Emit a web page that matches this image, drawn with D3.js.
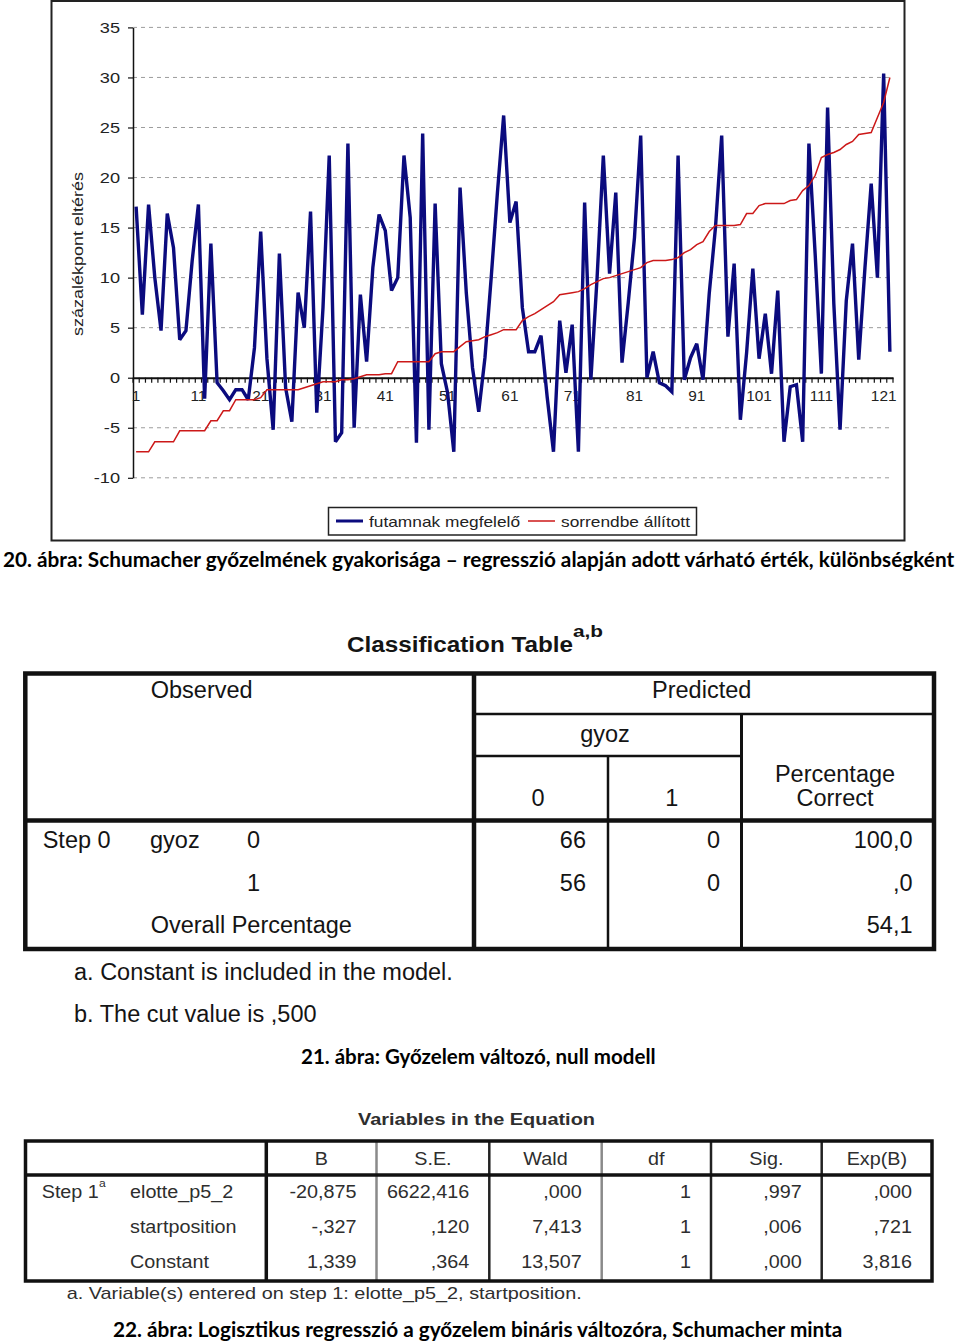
<!DOCTYPE html>
<html><head><meta charset="utf-8">
<script src="https://cdn.jsdelivr.net/npm/d3@7"></script>
<style>
html,body{margin:0;padding:0;background:#fff;}
svg{display:block;}
</style></head><body>
<svg id="c" width="960" height="1344"></svg>
<script>
// ---------- chart data ----------
const futamnakMegfelelo = [17.1,6.3,17.3,10,4.7,16.4,13,3.8,4.7,11.7,17.3,-2.1,13.4,-0.5,-1.3,-2.2,-1.2,-1.2,-2.2,3,
14.6,1.9,-5.2,12.4,-1,-4.4,8.5,5,16.6,-3.5,7,22.2,-6.4,-5.5,23.4,-5,8.3,1.6,11,16.3,
14.7,8.7,10,22.2,16,-6.5,24.4,-5.2,17.4,1.4,-1.5,-7.4,19,8.5,1,-3.4,2,10,18.5,26.2,
15.5,17.6,7,2.6,2.6,4.2,-2,-7.4,5.7,0.5,5.3,-7.4,17.5,-0.2,10,22.2,10.4,18.5,1.5,7.5,
14,24.2,0,2.6,-0.5,-0.8,-1.4,22.2,-0.2,2,3.4,-0.2,8.4,15,24.2,4.1,11.4,-4.2,2.5,10.9,
1.9,6.4,0.4,8.7,-6.4,-0.9,-0.7,-6.4,23.4,12.4,0.4,27,7.4,-5.2,7.7,13.4,1.8,11,19.4,10,
30.4,2.6];
const sorrendbeAllitott = [-7.4,-7.4,-7.4,-6.4,-6.4,-6.4,-6.4,-5.3,-5.3,-5.3,-5.3,-5.3,-4.3,-4.3,-3.3,-3.3,-2.2,-2.2,-2.2,-2.2,
-2.0,-1.2,-1.2,-1.2,-1.2,-1.2,-1.2,-1.0,-0.8,-0.6,-0.4,-0.4,-0.4,-0.2,-0.2,-0.1,0.1,0.3,0.3,0.3,
0.4,0.4,1.6,1.6,1.6,1.6,1.6,1.6,2.4,2.6,2.6,2.6,3.1,3.6,3.7,3.8,4.1,4.3,4.5,4.8,
4.8,4.8,5.7,6.1,6.4,6.8,7.2,7.6,8.3,8.4,8.5,8.6,8.9,9.3,9.6,9.9,10.0,10.2,10.4,10.6,
10.8,11.0,11.5,11.7,11.7,11.7,11.8,12.0,12.5,12.8,13.3,13.6,14.6,15.2,15.2,15.2,15.2,15.3,16.4,16.4,
17.2,17.4,17.4,17.4,17.4,17.7,17.8,18.7,19.2,20.2,22.0,22.3,22.5,22.8,23.3,23.6,24.3,24.4,24.5,26.0,
27.5,30.0];
const categories = futamnakMegfelelo.map((_, i) => i + 1);
const xTickLabels = ["1","11","21","31","41","51","61","71","81","91","101","111","121"];
const yTickValues = [-10,-5,0,5,10,15,20,25,30,35];
const yAxisTitle = "százalékpont eltérés";
const seriesNames = ["futamnak megfelelő","sorrendbe állított"];
const seriesColors = ["#0b0b7e","#cc1818"];

// ---------- captions ----------
const caption20 = "20. ábra: Schumacher győzelmének gyakorisága – regresszió alapján adott várható érték, különbségként";
const caption21 = "21. ábra: Győzelem változó, null modell";
const caption22 = "22. ábra: Logisztikus regresszió a győzelem bináris változóra, Schumacher minta";

// ---------- classification table ----------
const classTitle = "Classification Table";
const classTitleSup = "a,b";
const classHead = ["Observed","Predicted","gyoz","0","1","Percentage","Correct"];
const classStepLabels = ["Step 0","gyoz"];
const classObserved = ["0","1"];
const classOverall = "Overall Percentage";
const classCount0 = ["66","56"];
const classCount1 = ["0","0"];
const classPct = ["100,0",",0","54,1"];
const classNotes = ["a. Constant is included in the model.","b. The cut value is ,500"];

// ---------- variables table ----------
const varTitle = "Variables in the Equation";
const varHeaders = ["B","S.E.","Wald","df","Sig.","Exp(B)"];
const varStep = "Step 1";
const varNames = ["elotte_p5_2","startposition","Constant"];
const varValues = [
  ["-20,875","6622,416",",000","1",",997",",000"],
  ["-,327",",120","7,413","1",",006",",721"],
  ["1,339",",364","13,507","1",",000","3,816"]
];
const varNote = "a. Variable(s) entered on step 1: elotte_p5_2, startposition.";

// =================== drawing ===================
const svg = d3.select("#c");
const SANS = "'Liberation Sans', Arial, sans-serif";
const CAP = "Lato, 'Open Sans', sans-serif";

// chart frame
svg.append("rect").attr("x",51.5).attr("y",1).attr("width",853).attr("height",539.5)
  .attr("fill","none").attr("stroke","#222").attr("stroke-width",2);

const x = d3.scaleBand().domain(categories).range([133, 893]).padding(0);
const y = d3.scaleLinear().domain([-10, 35]).range([477.8, 27.4]);
const cx = d => x(d) + x.bandwidth() / 2;

const plot = svg.append("g");

// gridlines
plot.selectAll("line.grid").data(yTickValues.filter(v => v !== 0)).join("line")
  .attr("class","grid")
  .attr("x1",133).attr("x2",893).attr("y1",d => y(d)).attr("y2",d => y(d))
  .attr("stroke","#9c9c9c").attr("stroke-width",1).attr("stroke-dasharray","4,4");

// y axis
const yAxis = plot.append("g").attr("transform","translate(133,0)")
  .call(d3.axisLeft(y).tickValues(yTickValues).tickFormat(d => String(d))
    .tickSize(5).tickSizeOuter(0).tickPadding(0));
yAxis.select(".domain").attr("stroke","#111").attr("stroke-width",1.5);
yAxis.selectAll(".tick line").attr("stroke","#111").attr("stroke-width",1.2);
yAxis.selectAll(".tick text")
  .attr("x",0).attr("dy",null).attr("y",5)
  .attr("transform","translate(-13,0) scale(1.3,1)")
  .attr("font-family",SANS).attr("font-size",14).attr("fill","#222")
  .attr("text-anchor","end");

// x axis at zero
const xAxis = plot.append("g").attr("transform",`translate(0,${y(0)})`)
  .call(d3.axisBottom(x).tickValues(xTickLabels.map(Number)).tickSize(0).tickSizeOuter(0).tickPadding(0));
xAxis.select(".domain").attr("stroke","#111").attr("stroke-width",2);
xAxis.selectAll(".tick text")
  .attr("y",0).attr("dy",null)
  .attr("transform","translate(0,23) scale(1.1,1)")
  .attr("font-family",SANS).attr("font-size",14).attr("fill","#222");
// category boundary ticks
plot.selectAll("line.xt").data(categories.concat([null])).join("line")
  .attr("class","xt")
  .attr("x1",d => d === null ? x.range()[1] : x(d))
  .attr("x2",d => d === null ? x.range()[1] : x(d))
  .attr("y1",y(0)).attr("y2",y(0) + 5)
  .attr("stroke","#111").attr("stroke-width",1.2);

// y axis title
svg.append("text").attr("transform","translate(83,254) rotate(-90)")
  .attr("text-anchor","middle").attr("font-family",SANS).attr("font-size",15)
  .attr("fill","#222").attr("textLength",164).attr("lengthAdjust","spacingAndGlyphs")
  .text(yAxisTitle);

// lines
const line = d3.line().x((d, i) => cx(categories[i])).y(d => y(d));
plot.append("path").datum(futamnakMegfelelo).attr("d",line)
  .attr("fill","none").attr("stroke",seriesColors[0]).attr("stroke-width",3.4)
  .attr("stroke-linejoin","miter").attr("stroke-miterlimit",3);
plot.append("path").datum(sorrendbeAllitott).attr("d",line)
  .attr("fill","none").attr("stroke",seriesColors[1]).attr("stroke-width",1.5);

// legend
const lg = svg.append("g");
lg.append("rect").attr("x",328.5).attr("y",507.5).attr("width",368).attr("height",27.5)
  .attr("fill","#fff").attr("stroke","#222").attr("stroke-width",1.5);
const legendItems = [
  {name: seriesNames[0], color: seriesColors[0], x0: 336, tx: 369, tl: 151, w: 3},
  {name: seriesNames[1], color: seriesColors[1], x0: 528, tx: 561, tl: 129, w: 1.5}
];
lg.selectAll("line.lgl").data(legendItems).join("line").attr("class","lgl")
  .attr("x1",d => d.x0).attr("x2",d => d.x0 + 27).attr("y1",521).attr("y2",521)
  .attr("stroke",d => d.color).attr("stroke-width",d => d.w);
lg.selectAll("text.lgt").data(legendItems).join("text").attr("class","lgt")
  .attr("x",d => d.tx).attr("y",527).attr("font-family",SANS).attr("font-size",15)
  .attr("fill","#222").attr("textLength",d => d.tl).attr("lengthAdjust","spacingAndGlyphs")
  .text(d => d.name);

// captions: font size chosen so the natural width matches the target width
function caption(str, x0, base, len) {
  const t = svg.append("text").attr("x",x0).attr("y",base).attr("font-family",CAP).attr("font-weight",700)
    .attr("font-size",20).attr("fill","#000").text(str);
  const natural = t.node().getComputedTextLength();
  const fs = Math.min(21, 20 * len / natural);
  t.attr("font-size",fs);
  const w2 = t.node().getComputedTextLength();
  if (Math.abs(w2 - len) > 1) t.attr("textLength",len).attr("lengthAdjust","spacingAndGlyphs");
}
caption(caption20, 3, 567, 952);
caption(caption21, 301, 1064, 355);
caption(caption22, 113, 1337, 730);

// ---------- classification table ----------
const t1 = svg.append("g").attr("font-family",SANS).attr("fill","#141414");
t1.append("text").attr("x",347).attr("y",652).attr("font-weight",700).attr("font-size",22.5)
  .attr("textLength",226).attr("lengthAdjust","spacingAndGlyphs").text(classTitle);
t1.append("text").attr("x",573).attr("y",637).attr("font-weight",700).attr("font-size",17)
  .attr("textLength",30).attr("lengthAdjust","spacingAndGlyphs").text(classTitleSup);

const t1Lines = [
  [474,673.5,474,949,4.5],[25.3,820.5,934,820.5,4.5],
  [474,714,934,714,2.5],[474,756,741.5,756,2.5],
  [741.5,714,741.5,949,3],[608,756,608,949,2.5]
];
t1.selectAll("line").data(t1Lines).join("line")
  .attr("x1",d=>d[0]).attr("y1",d=>d[1]).attr("x2",d=>d[2]).attr("y2",d=>d[3])
  .attr("stroke","#111").attr("stroke-width",d=>d[4]);
t1.append("rect").attr("x",25.3).attr("y",673.5).attr("width",908.7).attr("height",275.5)
  .attr("fill","none").attr("stroke","#111").attr("stroke-width",4.5);

const T1FS = 23.5;
function t1text(str, x0, base, anchor) {
  t1.append("text").attr("x",x0).attr("y",base).attr("font-size",T1FS)
    .attr("text-anchor",anchor).text(str);
}
const headPos = [[201.7,698],[701.7,698],[605,742],[538,806],[671.7,806],[835,781.5],[835,806]];
classHead.forEach((s, i) => t1text(s, headPos[i][0], headPos[i][1], "middle"));
const rowBase = [848, 891, 933];
t1text(classStepLabels[0], 42.7, rowBase[0], "start");
t1text(classStepLabels[1], 150, rowBase[0], "start");
classObserved.forEach((s, i) => t1text(s, 253.5, rowBase[i], "middle"));
t1text(classOverall, 150.7, rowBase[2], "start");
classCount0.forEach((s, i) => t1text(s, 586, rowBase[i], "end"));
classCount1.forEach((s, i) => t1text(s, 720, rowBase[i], "end"));
classPct.forEach((s, i) => t1text(s, 912.5, rowBase[i], "end"));
classNotes.forEach((s, i) => t1text(s, 74, [980, 1021.5][i], "start"));

// ---------- variables table ----------
const t2 = svg.append("g").attr("font-family",SANS).attr("fill","#2e2e2e");
t2.append("text").attr("x",358).attr("y",1125).attr("font-weight",700).attr("font-size",16.5)
  .attr("textLength",237).attr("lengthAdjust","spacingAndGlyphs").text(varTitle);

const colEdges = [266.3, 376.5, 489.3, 601.7, 711, 821.7, 932];
const colShade = ["#111","#8a8a8a","#222","#8a8a8a","#222","#222"];
t2.selectAll("line.v").data(colEdges.slice(0,6)).join("line").attr("class","v")
  .attr("x1",d=>d).attr("x2",d=>d).attr("y1",1141).attr("y2",1281)
  .attr("stroke",(d,i)=>colShade[i]).attr("stroke-width",(d,i)=> i === 0 ? 3.5 : 2.5);
t2.append("line").attr("x1",25.5).attr("x2",932).attr("y1",1175).attr("y2",1175)
  .attr("stroke","#111").attr("stroke-width",3.5);
t2.append("rect").attr("x",25.5).attr("y",1141).attr("width",906.5).attr("height",140)
  .attr("fill","none").attr("stroke","#111").attr("stroke-width",3.5);

const T2FS = 17.5, T2SX = 1.13;
function t2text(str, x0, base, anchor, fs, sx) {
  t2.append("text").attr("transform",`translate(${x0},${base}) scale(${sx || T2SX},1)`)
    .attr("font-size",fs || T2FS).attr("text-anchor",anchor).text(str);
}
varHeaders.forEach((s, i) => t2text(s, (colEdges[i] + colEdges[i+1]) / 2, 1165, "middle"));
const r2Base = [1197.5, 1232.5, 1268];
t2text(varStep, 41.7, r2Base[0], "start");
t2text("a", 99, 1187, "start", 11, 1.1);
varNames.forEach((s, i) => t2text(s, 130, r2Base[i], "start"));
varValues.forEach((row, r) => row.forEach((s, c) =>
  t2text(s, colEdges[c+1] - 20, r2Base[r], "end")));
t2.append("text").attr("x",66.7).attr("y",1299).attr("font-size",17)
  .attr("textLength",515).attr("lengthAdjust","spacingAndGlyphs").text(varNote);
</script>
</body></html>
